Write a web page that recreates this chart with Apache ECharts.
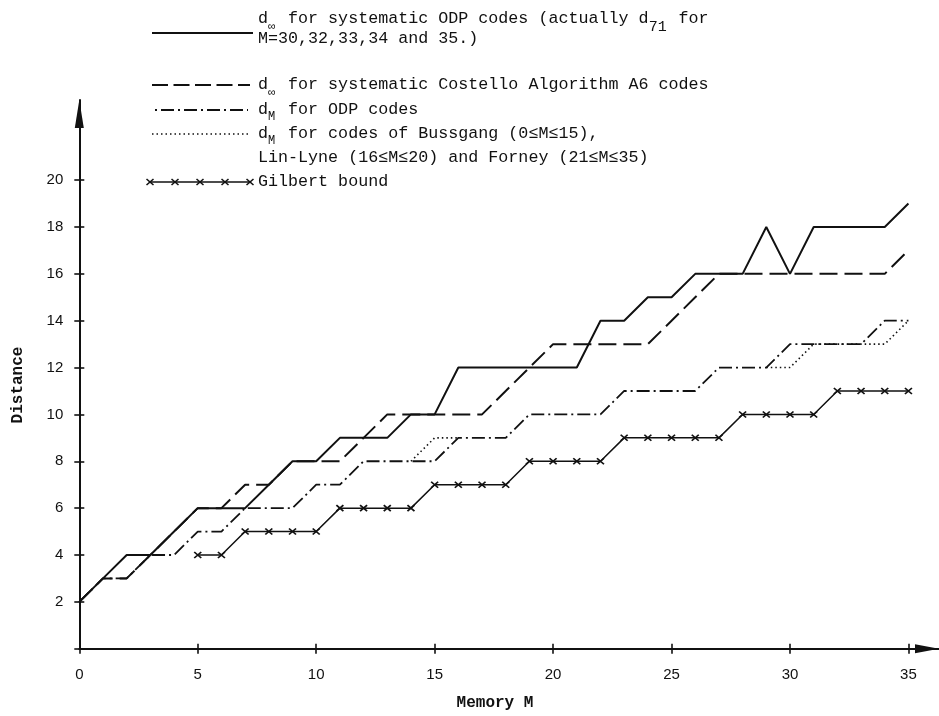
<!DOCTYPE html>
<html>
<head>
<meta charset="utf-8">
<script src="https://cdn.jsdelivr.net/npm/echarts@6/dist/echarts.min.js"></script>
<style>html,body{margin:0;padding:0;background:#fff;}#c{width:939px;height:716px;}</style>
</head>
<body>
<div id="c"></div>
<script>
// Memory M (x values)
const memory = [0,1,2,3,4,5,6,7,8,9,10,11,12,13,14,15,16,17,18,19,20,21,22,23,24,25,26,27,28,29,30,31,32,33,34,35];
// d_inf for systematic ODP codes (solid)
const odpDinf = [2,3,4,4,5,6,6,6,7,8,8,9,9,9,10,10,12,12,12,12,12,12,14,14,15,15,16,16,16,18,16,18,18,18,18,19];
// d_inf for systematic Costello Algorithm A6 codes (dashed)
const costelloDinf = [2,3,3,4,5,6,6,7,7,8,8,8,9,10,10,10,10,10,11,12,13,13,13,13,13,14,15,16,16,16,16,16,16,16,16,17];
// d_M for ODP codes (dash-dot)
const odpDM = [2,3,3,4,4,5,5,6,6,6,7,7,8,8,8,8,9,9,9,10,10,10,10,11,11,11,11,12,12,12,13,13,13,13,14,14];
// d_M for Bussgang / Lin-Lyne / Forney codes (dotted, drawn where distinct)
const bussgangDM = [null,null,null,null,null,null,null,null,null,null,null,null,null,null,8,9,9,null,null,null,null,null,null,null,null,null,null,null,null,12,12,13,13,13,13,14];
// Gilbert bound
const gilbert = [null,null,null,null,null,4,4,5,5,5,5,6,6,6,6,7,7,7,7,8,8,8,8,9,9,9,9,9,10,10,10,10,11,11,11,11];
// Tick labels
const xTicks = [0,5,10,15,20,25,30,35];
const yTicks = [0,2,4,6,8,10,12,14,16,18,20];
const yLabels = [2,4,6,8,10,12,14,16,18,20];

const INK = '#111';
const pairs = arr => memory.map((m, i) => [m, arr[i]]);

const chart = echarts.init(document.getElementById('c'), null, {renderer: 'canvas'});

const mono = '"Liberation Mono", "DejaVu Sans Mono", monospace';
const LX = 258, CW = 10.02;
function txt(text, x, y, size, extra) {
  return Object.assign({type: 'text', x: x, y: y, silent: true, style: {text: text, font: size + 'px ' + mono, fill: INK, textAlign: 'left', textVerticalAlign: 'middle'}}, extra || {});
}
function seg(x1, y1, x2, y2, w, dash) {
  const st = {stroke: INK, lineWidth: w};
  if (dash) st.lineDash = dash;
  return {type: 'line', silent: true, shape: {x1: x1, y1: y1, x2: x2, y2: y2}, style: st};
}

const graphics = [
  seg(152, 33, 253, 33, 2),
  seg(152, 85, 250, 85, 2, [16, 5.5]),
  seg(155, 110, 248, 110, 1.8, [2, 4, 13, 4]),
  seg(152, 134, 250, 134, 1.6, [1.5, 3]),
  seg(150, 182, 250, 182, 1.5)
];
[150, 175, 200, 225, 250].forEach(cx => {
  graphics.push(seg(cx - 3.5, 179, cx + 3.5, 185, 1.6));
  graphics.push(seg(cx + 3.5, 179, cx - 3.5, 185, 1.6));
});
graphics.push(
  txt('d  for systematic ODP codes (actually d   for', LX, 19, 16.7),
  txt('\u221e', LX + CW, 27, 12),
  txt('71', LX + 39 * CW, 27, 15),
  txt('M=30,32,33,34 and 35.)', LX, 39, 16.7),
  txt('d  for systematic Costello Algorithm A6 codes', LX, 85, 16.7),
  txt('\u221e', LX + CW, 93, 12),
  txt('d  for ODP codes', LX, 110, 16.7),
  txt('M', LX + CW, 117, 12),
  txt('d  for codes of Bussgang (0\u2264M\u226415),', LX, 134, 16.7),
  txt('M', LX + CW, 141, 12),
  txt('Lin-Lyne (16\u2264M\u226420) and Forney (21\u2264M\u226435)', LX, 158, 16.7),
  txt('Gilbert bound', LX, 182, 16.7),
  {type: 'text', x: 495, y: 703, silent: true, style: {text: 'Memory M', font: 'bold 16px ' + mono, fill: INK, textAlign: 'center', textVerticalAlign: 'middle'}},
  {type: 'text', x: 18, y: 385, rotation: Math.PI / 2, silent: true, style: {text: 'Distance', font: 'bold 16px ' + mono, fill: INK, textAlign: 'center', textVerticalAlign: 'middle'}}
);

const labelFont = {fontFamily: '"Liberation Sans", Arial, sans-serif', fontSize: 15, color: INK};

function xAx(withLine, inside) {
  return {
    type: 'value', min: 0, max: 36.29, position: 'bottom', gridIndex: 0,
    splitLine: {show: false},
    axisLine: withLine ? {show: true, lineStyle: {color: INK, width: 2}, symbol: ['none', 'triangle'], symbolSize: [9, 24], symbolOffset: [0, -12]} : {show: false},
    axisTick: {show: true, inside: inside, length: 5, customValues: xTicks, lineStyle: {color: INK, width: 1.6}},
    axisLabel: withLine ? Object.assign({show: true, margin: 19, customValues: xTicks}, labelFont) : {show: false}
  };
}
function yAx(withLine, inside) {
  return {
    type: 'value', min: 0, max: 23.42, position: 'left', gridIndex: 0,
    splitLine: {show: false},
    axisLine: withLine ? {show: true, lineStyle: {color: INK, width: 2}, symbol: ['none', 'triangle'], symbolSize: [9, 28], symbolOffset: [0, -14]} : {show: false},
    axisTick: {show: true, inside: inside, length: 5, customValues: yTicks, lineStyle: {color: INK, width: 1.6}},
    axisLabel: withLine ? Object.assign({show: true, margin: 16, customValues: yLabels}, labelFont) : {show: false}
  };
}

function ser(name, data, ls, extra) {
  return Object.assign({
    name: name, type: 'line', data: pairs(data), xAxisIndex: 0, yAxisIndex: 0,
    symbol: 'none', silent: true, connectNulls: false,
    lineStyle: Object.assign({color: INK}, ls),
    emphasis: {disabled: true}
  }, extra || {});
}

chart.setOption({
  animation: false,
  backgroundColor: '#fff',
  grid: {left: 79.3, right: 0, top: 100, bottom: 67.3, containLabel: false},
  xAxis: [xAx(true, false), xAx(false, true)],
  yAxis: [yAx(true, false), yAx(false, true)],
  series: [
    ser('d_M Bussgang / Lin-Lyne / Forney', bussgangDM, {width: 1.6, type: [1.5, 3]}),
    ser('d_M ODP', odpDM, {width: 1.8, type: [13, 4, 2, 4]}),
    ser('Gilbert bound', gilbert, {width: 1.5}, {
      symbol: 'path://M0,0L10,10M10,0L0,10', symbolSize: [7, 6], showSymbol: true,
      itemStyle: {color: INK, borderColor: INK, borderWidth: 1.6}
    }),
    ser('d_inf Costello A6', costelloDinf, {width: 2, type: [18, 7]}),
    ser('d_inf ODP', odpDinf, {width: 2})
  ],
  graphic: graphics
});
</script>
</body>
</html>
